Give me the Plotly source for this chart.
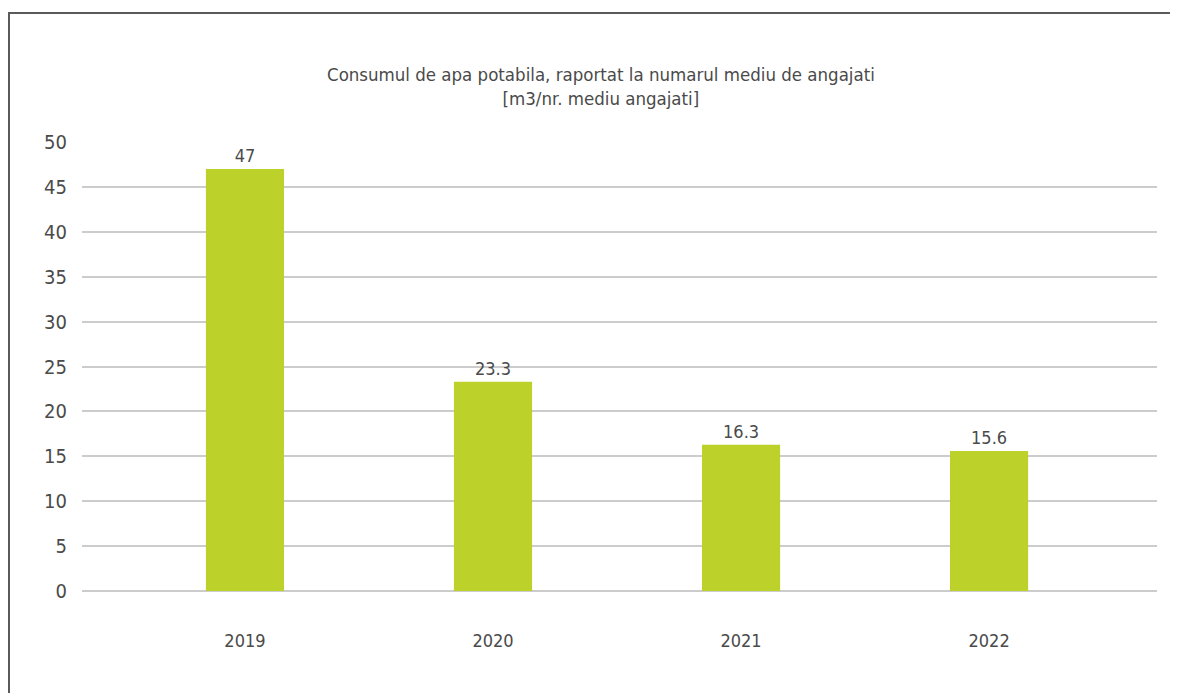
import plotly.graph_objects as go

years = ["2019", "2020", "2021", "2022"]
consum = [47, 23.3, 16.3, 15.6]
y_ticks = [0, 5, 10, 15, 20, 25, 30, 35, 40, 45, 50]

FONT = "Liberation Sans Narrow, DejaVu Sans Condensed, Roboto, sans-serif"
GREEN = "#bdd12b"
TEXT = "#4a4a4a"

fig = go.Figure()

fig.add_trace(
    go.Bar(
        x=years,
        y=consum,
        marker=dict(color=GREEN, line=dict(width=0)),
        width=0.315,
        text=[str(v) for v in consum],
        textposition="outside",
        textfont=dict(family=FONT, size=18, color=TEXT),
        cliponaxis=False,
        showlegend=False,
    )
)

# page body adds 8px offset, margins compensate for it
fig.update_layout(
    width=1178,
    height=693,
    paper_bgcolor="white",
    plot_bgcolor="white",
    margin=dict(l=74, r=29, t=134, b=110),
    font=dict(family=FONT, color=TEXT),
    annotations=[
        dict(
            text="Consumul de apa potabila, raportat la numarul mediu de angajati<br>[m3/nr. mediu angajati]",
            xref="paper",
            yref="paper",
            x=(601 - 82) / 1075,
            y=(591 - 86) / 449,
            xanchor="center",
            yanchor="middle",
            showarrow=False,
            font=dict(family=FONT, size=18.5, color=TEXT),
            align="center",
        )
    ],
    shapes=[
        dict(
            type="rect",
            xref="paper",
            yref="paper",
            x0=(9 - 82) / 1075,
            x1=1.3,
            y0=-0.6,
            y1=(591 - 13) / 449,
            line=dict(color="#5a5a5a", width=2),
            fillcolor="rgba(0,0,0,0)",
            layer="below",
        )
    ],
)

fig.update_xaxes(
    type="category",
    range=[-0.657, 3.677],
    showgrid=False,
    showline=False,
    ticks="",
    tickfont=dict(family=FONT, size=18, color=TEXT),
    ticklabelstandoff=37,
)

fig.update_yaxes(
    range=[0, 50],
    tickvals=y_ticks,
    showgrid=True,
    gridcolor="#cccccc",
    gridwidth=1.5,
    zeroline=True,
    zerolinecolor="#cccccc",
    zerolinewidth=1.5,
    showline=False,
    ticks="",
    tickfont=dict(family=FONT, size=20, color=TEXT),
    ticklabelstandoff=14,
)

fig.write_html("out.html")
